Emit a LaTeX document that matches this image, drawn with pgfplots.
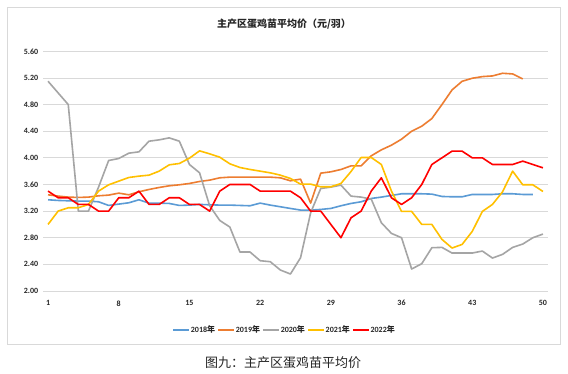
\documentclass[border=0pt]{standalone}
\usepackage{fontspec}
\setmainfont{Carlito}
\newfontfamily\cjk{Noto Sans CJK SC}
\usepackage{pgfplots}
\pgfplotsset{compat=1.18}
\definecolor{cA}{HTML}{5B9BD5}
\definecolor{cB}{HTML}{ED7D31}
\definecolor{cC}{HTML}{A5A5A5}
\definecolor{cD}{HTML}{FFC000}
\definecolor{cE}{HTML}{FF0000}
\definecolor{gridc}{HTML}{D9D9D9}
\definecolor{txt}{HTML}{262626}
\begin{document}
\begin{tikzpicture}
\useasboundingbox[fill=white] (0,0) rectangle (568bp,374bp);
\draw[gridc, line width=0.8bp] (7bp,30bp) rectangle (560bp,367bp);
\begin{axis}[
  at={(43bp,83bp)}, anchor=south west,
  scale only axis, width=505bp, height=239.7bp,
  xmin=0.5, xmax=50.5, ymin=2, ymax=5.6,
  xtick={1,8,15,22,29,36,43,50},
  xticklabels={1,8,15,22,29,36,43,50},
  ytick={2.0,2.4,2.8,3.2,3.6,4.0,4.4,4.8,5.2,5.6},
  yticklabels={2.00,2.40,2.80,3.20,3.60,4.00,4.40,4.80,5.20,5.60},
  ymajorgrids, major grid style={gridc, line width=0.8bp},
  axis line style={draw=none}, tick style={draw=none},
  ticklabel style={font=\fontsize{8bp}{9bp}\selectfont\bfseries, text=txt},
  yticklabel style={xshift=-1.3bp},
  xticklabel style={yshift=-6bp},
  legend columns=5,
  legend style={draw=none, fill=none, at={(0.477,-0.163)}, anchor=center,
    font=\fontsize{8bp}{9bp}\selectfont\bfseries, text=txt,
    nodes={inner sep=0.6bp},
    /tikz/every even column/.append style={column sep=1.5bp}},
  legend image code/.code={\draw[#1, line width=2bp] (0bp,0bp) -- (16bp,0bp);},
  every axis plot/.append style={line width=1.6bp, line join=round, mark=none},
]
\addplot[cA] coordinates {(1,3.37)(2,3.36)(3,3.355)(4,3.35)(5,3.35)(6,3.34)(7,3.285)(8,3.305)(9,3.325)(10,3.37)(11,3.32)(12,3.32)(13,3.315)(14,3.285)(15,3.29)(16,3.30)(17,3.295)(18,3.29)(19,3.29)(20,3.285)(21,3.28)(22,3.32)(23,3.29)(24,3.265)(25,3.24)(26,3.215)(27,3.215)(28,3.225)(29,3.24)(30,3.28)(31,3.315)(32,3.34)(33,3.39)(34,3.41)(35,3.435)(36,3.46)(37,3.46)(38,3.46)(39,3.455)(40,3.42)(41,3.415)(42,3.415)(43,3.45)(44,3.45)(45,3.45)(46,3.46)(47,3.46)(48,3.45)(49,3.45)};
\addlegendentry{2018{\cjk 年}}
\addplot[cB] coordinates {(1,3.445)(2,3.425)(3,3.41)(4,3.405)(5,3.41)(6,3.43)(7,3.44)(8,3.47)(9,3.445)(10,3.49)(11,3.525)(12,3.555)(13,3.58)(14,3.595)(15,3.615)(16,3.645)(17,3.665)(18,3.70)(19,3.71)(20,3.71)(21,3.71)(22,3.71)(23,3.71)(24,3.70)(25,3.655)(26,3.68)(27,3.32)(28,3.77)(29,3.79)(30,3.825)(31,3.88)(32,3.88)(33,4.03)(34,4.12)(35,4.19)(36,4.28)(37,4.40)(38,4.475)(39,4.59)(40,4.80)(41,5.02)(42,5.15)(43,5.195)(44,5.22)(45,5.23)(46,5.27)(47,5.26)(48,5.185)};
\addlegendentry{2019{\cjk 年}}
\addplot[cC] coordinates {(1,5.15)(2,4.975)(3,4.80)(4,3.20)(5,3.20)(6,3.56)(7,3.96)(8,3.99)(9,4.07)(10,4.09)(11,4.25)(12,4.27)(13,4.30)(14,4.25)(15,3.90)(16,3.775)(17,3.28)(18,3.06)(19,2.96)(20,2.585)(21,2.585)(22,2.455)(23,2.44)(24,2.315)(25,2.255)(26,2.50)(27,3.175)(28,3.54)(29,3.56)(30,3.59)(31,3.425)(32,3.41)(33,3.38)(34,3.025)(35,2.865)(36,2.80)(37,2.33)(38,2.41)(39,2.65)(40,2.655)(41,2.57)(42,2.57)(43,2.57)(44,2.60)(45,2.495)(46,2.55)(47,2.655)(48,2.705)(49,2.80)(50,2.855)};
\addlegendentry{2020{\cjk 年}}
\addplot[cD] coordinates {(1,3.0)(2,3.2)(3,3.25)(4,3.25)(5,3.30)(6,3.50)(7,3.595)(8,3.65)(9,3.705)(10,3.725)(11,3.74)(12,3.80)(13,3.895)(14,3.915)(15,3.995)(16,4.105)(17,4.06)(18,4.01)(19,3.91)(20,3.855)(21,3.825)(22,3.80)(23,3.775)(24,3.74)(25,3.69)(26,3.605)(27,3.605)(28,3.565)(29,3.565)(30,3.615)(31,3.795)(32,4.005)(33,4.005)(34,3.90)(35,3.50)(36,3.195)(37,3.195)(38,3.0)(39,3.0)(40,2.775)(41,2.645)(42,2.70)(43,2.895)(44,3.195)(45,3.30)(46,3.49)(47,3.80)(48,3.595)(49,3.595)(50,3.495)};
\addlegendentry{2021{\cjk 年}}
\addplot[cE] coordinates {(1,3.5)(2,3.4)(3,3.4)(4,3.3)(5,3.3)(6,3.2)(7,3.2)(8,3.4)(9,3.4)(10,3.5)(11,3.3)(12,3.3)(13,3.4)(14,3.4)(15,3.3)(16,3.3)(17,3.2)(18,3.5)(19,3.6)(20,3.6)(21,3.6)(22,3.5)(23,3.5)(24,3.5)(25,3.5)(26,3.4)(27,3.2)(28,3.2)(29,3.0)(30,2.8)(31,3.1)(32,3.2)(33,3.5)(34,3.7)(35,3.4)(36,3.3)(37,3.4)(38,3.6)(39,3.9)(40,4.0)(41,4.1)(42,4.1)(43,4.0)(44,4.0)(45,3.9)(46,3.9)(47,3.9)(48,3.95)(49,3.9)(50,3.85)};
\addlegendentry{2022{\cjk 年}}
\end{axis}
\node[font=\cjk\bfseries\fontsize{10bp}{12bp}\selectfont, text=txt] at (284bp,350bp) {主产区蛋鸡苗平均价（元/羽）};
\node[font=\cjk\fontsize{13bp}{15bp}\selectfont, text=txt] at (283bp,11bp) {图九：主产区蛋鸡苗平均价};
\end{tikzpicture}
\end{document}
